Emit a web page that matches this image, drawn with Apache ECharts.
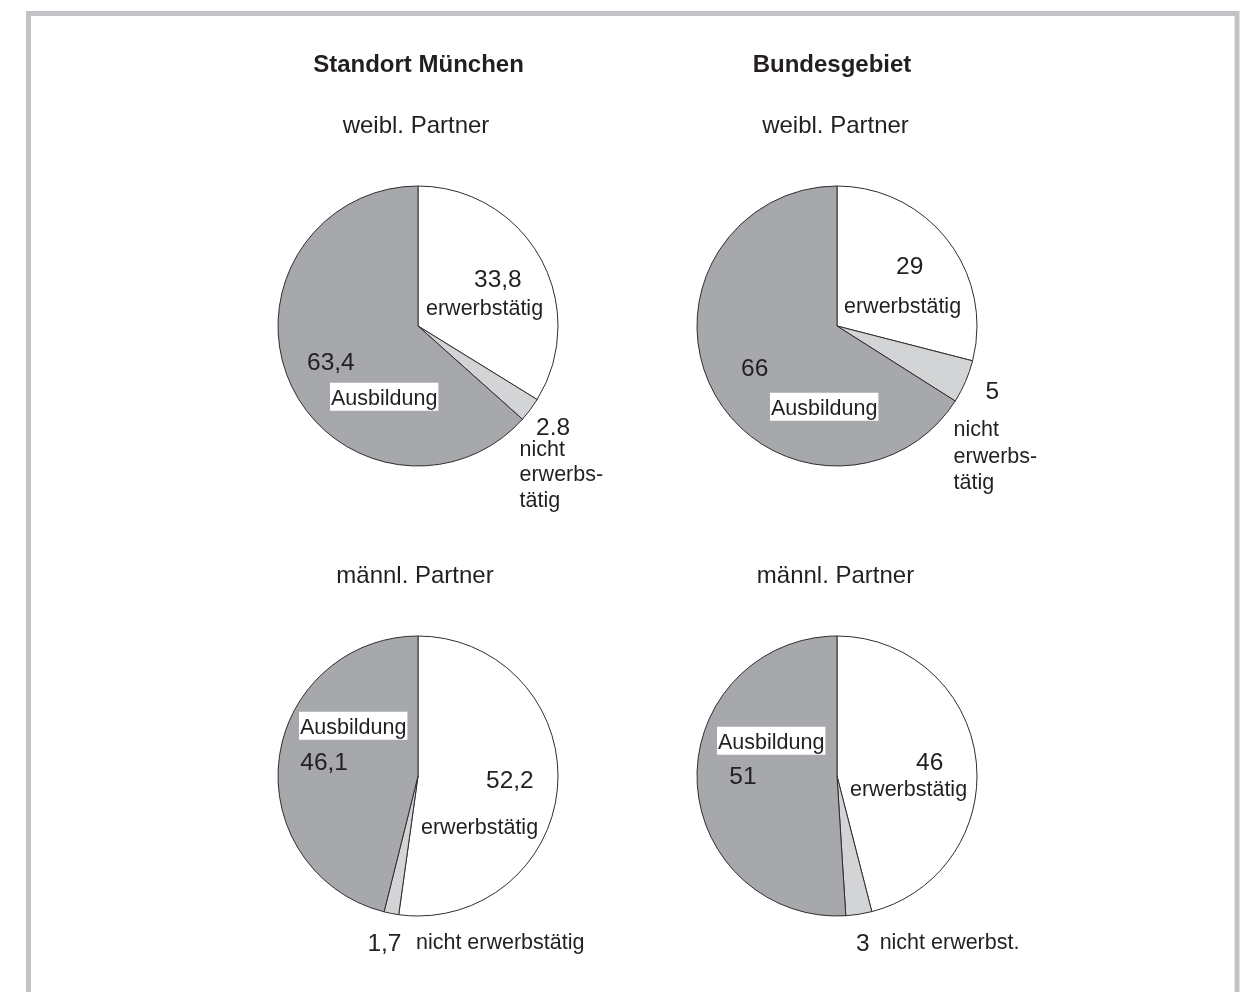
<!DOCTYPE html>
<html>
<head>
<meta charset="utf-8">
<script src="https://cdn.jsdelivr.net/npm/echarts@6/dist/echarts.min.js"></script>
<style>
  html, body { margin: 0; padding: 0; background: #fff; }
  #chart { width: 1253px; height: 992px; }
</style>
</head>
<body>
<div id="chart"></div>
<script>
// Erwerbsstatus des Partners (Anteile in %), Standort München vs. Bundesgebiet
const categories = ['erwerbstätig', 'nicht erwerbstätig', 'Ausbildung'];
const muenchenWeibl = [33.8, 2.8, 63.4];
const bundWeibl = [29, 5, 66];
const muenchenMaennl = [52.2, 1.7, 46.1];
const bundMaennl = [46, 3, 51];
const regionTitles = ['Standort München', 'Bundesgebiet'];
const partnerTitles = ['weibl. Partner', 'männl. Partner'];

// wording of the slice labels in each pie
const labelsMW = ['erwerbstätig', 'nicht\nerwerbs-\ntätig', 'Ausbildung'];
const labelsBW = ['erwerbstätig', 'nicht\nerwerbs-\ntätig', 'Ausbildung'];
const labelsMM = ['erwerbstätig', 'nicht erwerbstätig', 'Ausbildung'];
const labelsBM = ['erwerbstätig', 'nicht erwerbst.', 'Ausbildung'];

// slice fills: white / light grey / mid grey
const sliceColors = ['#ffffff', '#d3d4d6', '#a7a8ab'];
const inkColor = '#231f20';
const fontFamily = '"Liberation Sans", Arial, Helvetica, sans-serif';
const valueShift = 3;   // nudges the figures down within their line
const nameShift = 2;    // nudges the plain names down within their line

// label block placement per pie and slice (top-left corner of the text block)
// mode: vn = value above name, vb = value above boxed name,
//       bv = boxed name above value, inline = value and name on one line
const placements = [
  [
    { x: 426, y: 262, mode: 'vn', vIndent: 48, vLH: 30, nLH: 30 },
    { x: 519.5, y: 412.5, mode: 'vn', vIndent: 16.5, vLH: 24.5, nLH: 25.5, sep: '.', nShift: 0 },
    { x: 307, y: 337, mode: 'vb', vIndent: 0, vLH: 46, bIndent: 23 }
  ],
  [
    { x: 844, y: 244.7, mode: 'vn', vIndent: 52, vLH: 40, nLH: 40 },
    { x: 953.6, y: 361, mode: 'vn', vIndent: 32, vLH: 55.5, nLH: 26.5, nShift: 0.5 },
    { x: 741, y: 340.4, mode: 'vb', vIndent: 0, vLH: 52.6, bIndent: 29 }
  ],
  [
    { x: 421, y: 755.2, mode: 'vn', vIndent: 65, vLH: 47, nLH: 47 },
    { x: 367.4, y: 926, mode: 'inline', vIndent: 0, vLH: 30, nLH: 30, nIndent: 14.5 },
    { x: 299, y: 712, mode: 'bv', vIndent: 1.3, vLH: 42.4, bIndent: 0 }
  ],
  [
    { x: 850, y: 747.2, mode: 'vn', vIndent: 66, vLH: 27, nLH: 27 },
    { x: 856, y: 926, mode: 'inline', vIndent: 0, vLH: 30, nLH: 30, nIndent: 10 },
    { x: 717, y: 727, mode: 'bv', vIndent: 12.3, vLH: 40.4, bIndent: 0 }
  ]
];

const pies = [
  { values: muenchenWeibl, labels: labelsMW, center: [418, 326] },
  { values: bundWeibl, labels: labelsBW, center: [837, 326] },
  { values: muenchenMaennl, labels: labelsMM, center: [418, 776] },
  { values: bundMaennl, labels: labelsBM, center: [837, 776] }
];

function formatValue(v, sep) {
  return String(v).replace('.', sep || ',');
}

function buildSeries(pie, place) {
  const rich = {
    b: {
      fontSize: 21.5, lineHeight: 27.5, color: inkColor, fontFamily,
      backgroundColor: '#ffffff', padding: [5, 1, 1, 1]
    }
  };
  place.forEach((p, i) => {
    const nShift = p.nShift != null ? p.nShift : nameShift;
    rich['v' + i] = {
      fontSize: 24.5, lineHeight: p.vLH, color: inkColor, fontFamily,
      padding: [valueShift * 2, 0, 0, p.vIndent || 0]
    };
    rich['n' + i] = {
      fontSize: 21.5, lineHeight: p.nLH || p.vLH, color: inkColor, fontFamily,
      padding: [nShift * 2, 0, 0, p.nIndent || 0]
    };
    rich['s' + i] = { width: p.bIndent || 0, lineHeight: 1 };
  });
  return {
    type: 'pie',
    center: pie.center,
    radius: 140,
    startAngle: 90,
    clockwise: true,
    silent: true,
    animation: false,
    data: categories.map((name, i) => ({
      name,
      value: pie.values[i],
      itemStyle: { color: sliceColors[i] }
    })),
    itemStyle: { borderColor: '#2e2e2e', borderWidth: 1 },
    label: {
      show: true,
      position: 'inside',
      color: inkColor,
      fontFamily,
      formatter: (params) => {
        const i = params.dataIndex;
        const p = place[i];
        const val = formatValue(params.value, p.sep);
        const name = pie.labels[i];
        switch (p.mode) {
          case 'vn': return `{v${i}|${val}}\n{n${i}|${name}}`;
          case 'vb': return `{v${i}|${val}}\n` + (p.bIndent ? `{s${i}|}` : '') + `{b|${name}}`;
          case 'bv': return `{b|${name}}\n{v${i}|${val}}`;
          default: return `{v${i}|${val}}{n${i}|${name}}`;
        }
      },
      rich
    },
    labelLine: { show: false },
    labelLayout: (params) => {
      const p = place[params.dataIndex];
      return { x: p.x, y: p.y, align: 'left', verticalAlign: 'top' };
    },
    emphasis: { disabled: true }
  };
}

function titleItem(text, left, top, bold) {
  return {
    text, left, top,
    textAlign: 'center',
    textVerticalAlign: 'top',
    padding: 0,
    textStyle: { fontSize: 24, fontWeight: bold ? 'bold' : 'normal', color: inkColor, fontFamily }
  };
}

const chart = echarts.init(document.getElementById('chart'), null, { renderer: 'canvas' });
chart.setOption({
  backgroundColor: '#ffffff',
  animation: false,
  textStyle: { fontFamily },
  title: [
    titleItem(regionTitles[0], 418.5, 53.2, true),
    titleItem(regionTitles[1], 832, 53.2, true),
    titleItem(partnerTitles[0], 416, 114.5, false),
    titleItem(partnerTitles[0], 835.5, 114.5, false),
    titleItem(partnerTitles[1], 415, 564, false),
    titleItem(partnerTitles[1], 835.5, 564, false)
  ],
  graphic: [
    {
      type: 'rect',
      silent: true,
      z: -10,
      shape: { x: 28.5, y: 13.5, width: 1208.5, height: 1100 },
      style: { fill: 'none', stroke: '#c2c3c6', lineWidth: 5 }
    }
  ],
  series: pies.map((pie, k) => buildSeries(pie, placements[k]))
});
</script>
</body>
</html>
